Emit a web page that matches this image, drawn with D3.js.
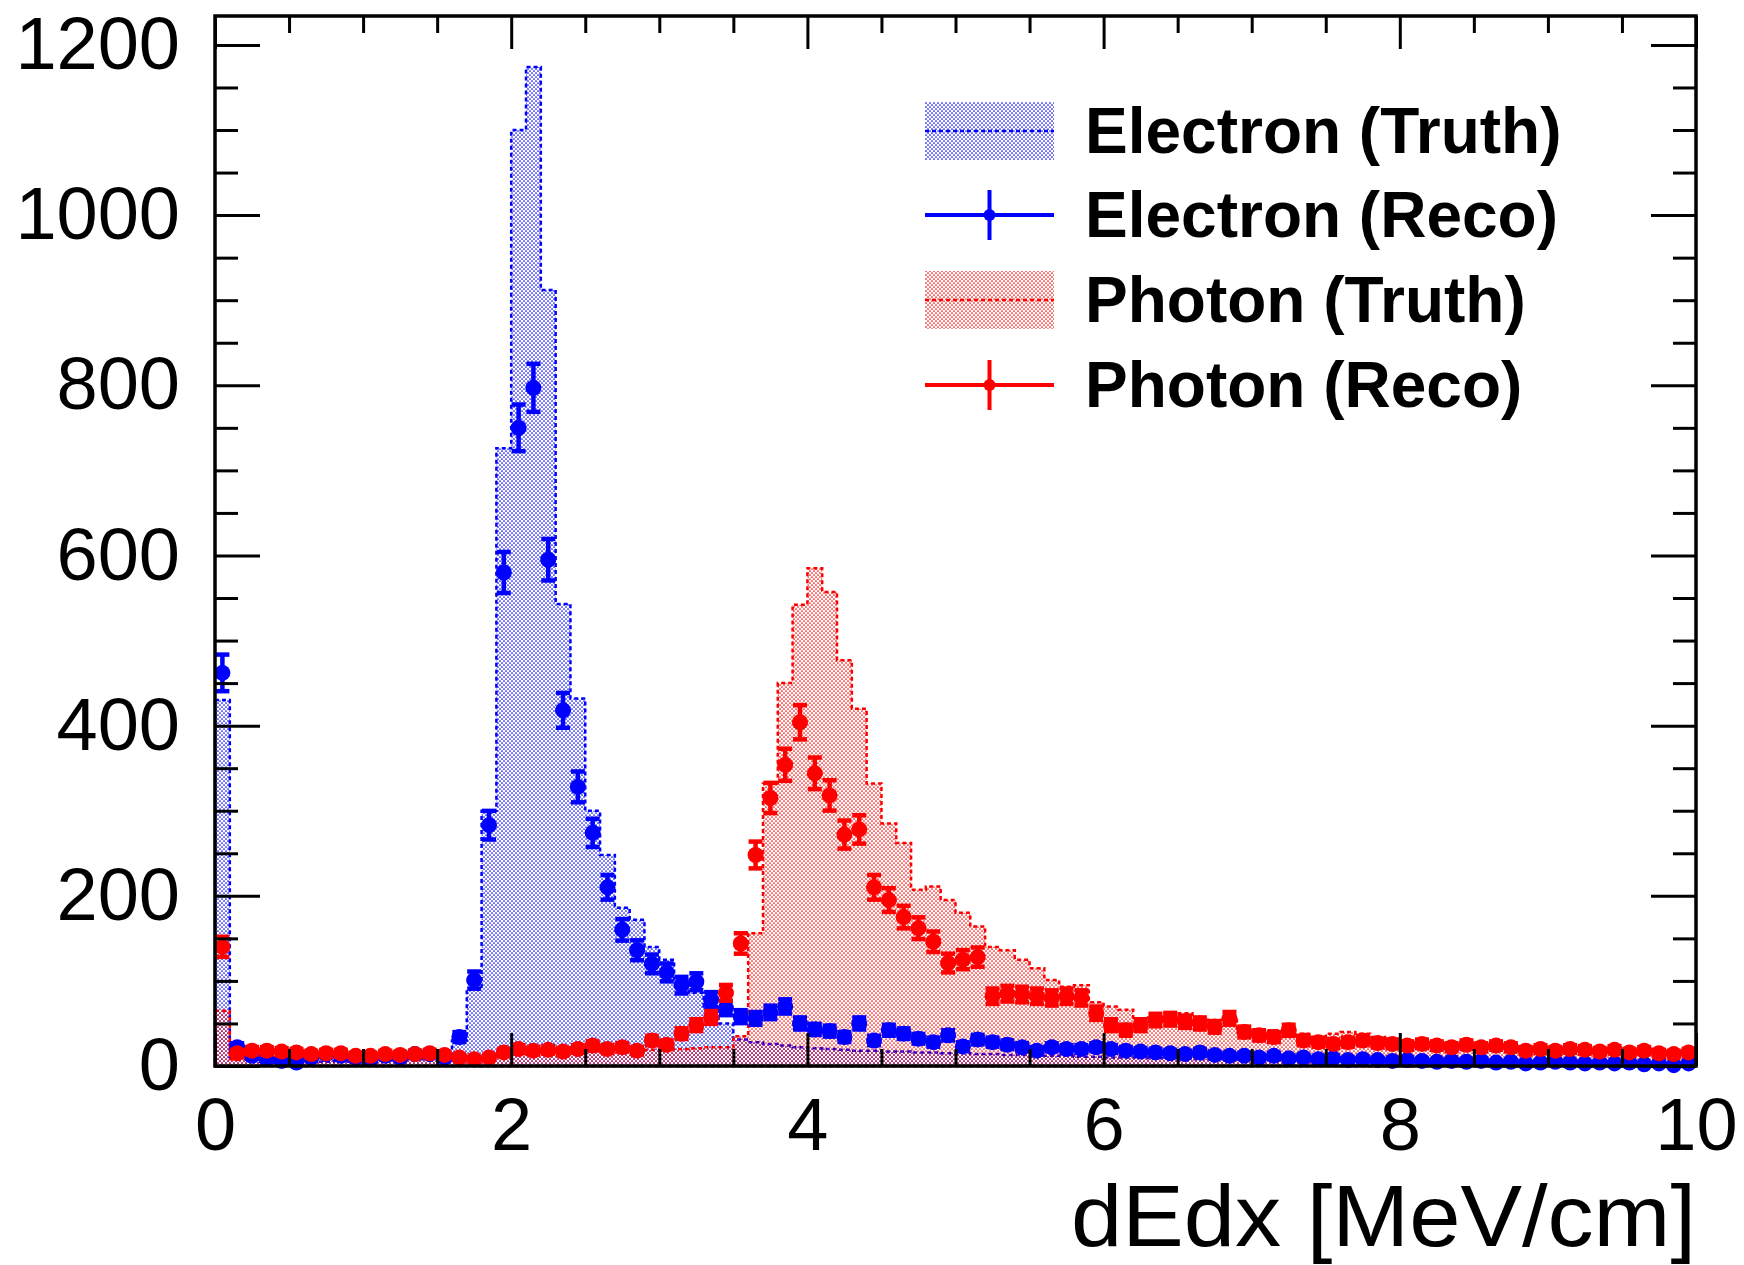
<!DOCTYPE html>
<html>
<head>
<meta charset="utf-8">
<script src="https://cdn.jsdelivr.net/npm/d3@7"></script>
<style>
    body { margin: 0; background: #fff; }
    svg { display: block; font-family: "Liberation Sans", Arial, Helvetica, sans-serif; }
</style>
</head>
<body>
<div id="chart"></div>
<script>
    // histogram binning (100 bins from 0 to 10)
    var xMin = 0, xMax = 10, binWidth = 0.1;
    var yMax = 1234;

    var xTicks = [0, 2, 4, 6, 8, 10];
    var yTicks = [0, 200, 400, 600, 800, 1000, 1200];

    // bin contents, one value per bin
    var electronTruth = [
        430, 10, 6, 5, 4, 5, 6, 5, 6, 5,
        6, 7, 8, 8, 10, 14, 30, 90, 300, 726,
        1100, 1174, 912, 543, 432, 300, 248, 186, 172, 140,
        125, 101, 86, 70, 50, 31, 28, 26, 24, 22,
        21, 20, 19, 18, 18, 17, 17, 16, 16, 15,
        15, 14, 14, 13, 13, 12, 12, 12, 11, 11,
        10, 10, 10, 9, 9, 9, 8, 8, 8, 8,
        7, 7, 7, 7, 6, 6, 6, 6, 6, 5,
        5, 5, 5, 5, 5, 4, 4, 4, 4, 4,
        4, 4, 3, 3, 3, 3, 3, 3, 3, 3
    ];
    var electronReco = [
        462, 22, 12, 8, 6, 4, 10, 14, 12, 10,
        8, 12, 10, 14, 14, 10, 34, 101, 283, 580,
        750, 797, 595, 418, 328, 274, 210, 160, 136, 120,
        110, 95, 99, 78, 68, 58, 56, 63, 70, 50,
        43, 41, 34, 50, 30, 42, 38, 32, 28, 36,
        23, 31, 28, 25, 22, 18, 22, 20, 20, 22,
        20, 18, 17, 16, 15, 14, 16, 13, 12, 12,
        10, 12, 9, 10, 8, 9, 7, 8, 7, 6,
        7, 6, 5, 6, 5, 6, 4, 5, 3, 4,
        5, 4, 3, 4, 3, 4, 2, 3, 1, 3
    ];
    var photonTruth = [
        65, 8, 12, 12, 10, 10, 9, 10, 10, 9,
        9, 10, 11, 10, 10, 10, 9, 9, 10, 12,
        14, 15, 15, 16, 16, 17, 17, 18, 18, 19,
        20, 20, 21, 22, 22, 35, 156, 332, 450, 542,
        585, 557, 477, 420, 332, 285, 262, 207, 211, 195,
        180, 164, 140, 136, 125, 115, 101, 93, 95, 75,
        70, 66, 54, 57, 62, 62, 57, 54, 57, 42,
        38, 42, 34, 38, 30, 38, 40, 38, 34, 30,
        30, 28, 27, 26, 26, 25, 24, 23, 23, 22,
        22, 21, 20, 20, 19, 19, 18, 18, 17, 17
    ];
    var photonReco = [
        140, 15, 18, 18, 17, 16, 14, 15, 15, 12,
        12, 14, 13, 14, 15, 13, 10, 8, 10, 16,
        20, 18, 19, 17, 20, 24, 20, 22, 18, 30,
        25, 38, 48, 57, 86, 144, 248, 315, 354, 404,
        344, 318, 272, 278, 210, 195, 175, 162, 146, 121,
        125, 128, 82, 85, 84, 82, 80, 82, 80, 62,
        48, 42, 48, 54, 55, 52, 50, 46, 56, 40,
        36, 34, 42, 30, 28, 26, 28, 30, 27, 26,
        24, 26, 24, 22, 25, 22, 24, 22, 18, 20,
        18, 20, 19, 17, 19, 16, 18, 15, 14, 16
    ];

    var legendLabels = ["Electron (Truth)", "Electron (Reco)", "Photon (Truth)", "Photon (Reco)"];

    var blue = "#0000ff", red = "#ff0000";

    // chart size and margin settings
    var totalWidth = 1744, totalHeight = 1265;
    var margin = { top: 16, right: 48, bottom: 199, left: 215 };
    var width = totalWidth - margin.left - margin.right;
    var height = totalHeight - margin.top - margin.bottom;

    var xScale = d3.scaleLinear().domain([xMin, xMax]).range([0, width]);
    var yScale = d3.scaleLinear().domain([0, yMax]).range([height, 0]);

    var root = d3.select("#chart").append("svg")
        .attr("width", totalWidth)
        .attr("height", totalHeight);

    // dotted fill patterns (ROOT style 3001 like)
    var defs = root.append("defs");
    function addPattern(id, color) {
        var p = defs.append("pattern")
            .attr("id", id)
            .attr("patternUnits", "userSpaceOnUse")
            .attr("width", 4)
            .attr("height", 4);
        p.append("circle").attr("cx", 1).attr("cy", 1).attr("r", 0.85).attr("fill", color);
        p.append("circle").attr("cx", 3).attr("cy", 3).attr("r", 0.85).attr("fill", color);
    }
    addPattern("dotsBlue", blue);
    addPattern("dotsRed", red);

    var svg = root.append("g")
        .attr("transform", "translate(" + margin.left + "," + margin.top + ")");

    // turns bin contents into step points
    function toSteps(values) {
        var pts = values.map(function (v, i) { return { x: xMin + i * binWidth, v: v }; });
        pts.push({ x: xMax, v: values[values.length - 1] });
        return pts;
    }

    var area = d3.area()
        .curve(d3.curveStepAfter)
        .x(function (d) { return xScale(d.x); })
        .y0(yScale(0))
        .y1(function (d) { return yScale(d.v); });

    function drawTruth(values, patternId, color) {
        svg.append("path")
            .datum(toSteps(values))
            .attr("d", area)
            .attr("fill", "url(#" + patternId + ")")
            .attr("stroke", color)
            .attr("stroke-width", 2.5)
            .attr("stroke-dasharray", "4,3");
    }

    var markerRadius = 8;
    var capHalf = 7;

    function drawReco(values, color) {
        var pts = values.map(function (v, i) {
            return { x: xMin + (i + 0.5) * binWidth, v: v, e: Math.sqrt(v) };
        });
        var g = svg.append("g")
            .attr("stroke", color)
            .attr("fill", color)
            .attr("stroke-width", 4.5);

        var pt = g.selectAll(".pt")
            .data(pts)
            .enter()
            .append("g")
            .attr("class", "pt");

        // horizontal bar (bin width)
        pt.append("line")
            .attr("x1", function (d) { return xScale(d.x - binWidth / 2); })
            .attr("x2", function (d) { return xScale(d.x + binWidth / 2); })
            .attr("y1", function (d) { return yScale(d.v); })
            .attr("y2", function (d) { return yScale(d.v); });

        // vertical error bar
        pt.append("line")
            .attr("x1", function (d) { return xScale(d.x); })
            .attr("x2", function (d) { return xScale(d.x); })
            .attr("y1", function (d) { return yScale(d.v - d.e); })
            .attr("y2", function (d) { return yScale(d.v + d.e); });

        // caps
        [-1, 1].forEach(function (s) {
            pt.append("line")
                .attr("x1", function (d) { return xScale(d.x) - capHalf; })
                .attr("x2", function (d) { return xScale(d.x) + capHalf; })
                .attr("y1", function (d) { return yScale(d.v + s * d.e); })
                .attr("y2", function (d) { return yScale(d.v + s * d.e); });
        });

        pt.append("circle")
            .attr("cx", function (d) { return xScale(d.x); })
            .attr("cy", function (d) { return yScale(d.v); })
            .attr("r", markerRadius)
            .attr("stroke", "none");
    }

    drawTruth(electronTruth, "dotsBlue", blue);
    drawTruth(photonTruth, "dotsRed", red);
    drawReco(electronReco, blue);
    drawReco(photonReco, red);

    // axes: ticks point inwards on all four sides
    var xMinor = d3.range(0, 10.01, 0.5).filter(function (t) { return xTicks.indexOf(t) < 0; });
    var yMinor = d3.range(0, yMax, 50).filter(function (t) { return yTicks.indexOf(t) < 0; });

    function styleAxis(sel) {
        sel.select(".domain").remove();
        sel.selectAll("line").attr("stroke", "#000").attr("stroke-width", 3);
        sel.selectAll("text")
            .attr("fill", "#000")
            .style("font-size", "74px");
    }

    svg.append("g")
        .attr("transform", "translate(0," + height + ")")
        .call(d3.axisBottom(xScale).tickValues(xTicks).tickSize(-33).tickPadding(31).tickFormat(d3.format("d")))
        .call(styleAxis);
    svg.append("g")
        .attr("transform", "translate(0," + height + ")")
        .call(d3.axisBottom(xScale).tickValues(xMinor).tickSize(-17).tickFormat(""))
        .call(styleAxis);
    svg.append("g")
        .call(d3.axisTop(xScale).tickValues(xTicks).tickSize(-33).tickFormat(""))
        .call(styleAxis);
    svg.append("g")
        .call(d3.axisTop(xScale).tickValues(xMinor).tickSize(-17).tickFormat(""))
        .call(styleAxis);

    svg.append("g")
        .call(d3.axisLeft(yScale).tickValues(yTicks).tickSize(-45).tickPadding(35).tickFormat(d3.format("d")))
        .call(styleAxis);
    svg.append("g")
        .call(d3.axisLeft(yScale).tickValues(yMinor).tickSize(-23).tickFormat(""))
        .call(styleAxis);
    svg.append("g")
        .attr("transform", "translate(" + width + ",0)")
        .call(d3.axisRight(yScale).tickValues(yTicks).tickSize(-45).tickFormat(""))
        .call(styleAxis);
    svg.append("g")
        .attr("transform", "translate(" + width + ",0)")
        .call(d3.axisRight(yScale).tickValues(yMinor).tickSize(-23).tickFormat(""))
        .call(styleAxis);

    // frame
    svg.append("rect")
        .attr("width", width)
        .attr("height", height)
        .attr("fill", "none")
        .attr("stroke", "#000")
        .attr("stroke-width", 3.5);

    // x-axis title (slightly stretched like the original rendering)
    svg.append("text")
        .attr("x", width)
        .attr("y", height + 180)
        .attr("text-anchor", "end")
        .attr("textLength", 625)
        .attr("lengthAdjust", "spacingAndGlyphs")
        .style("font-size", "88px")
        .text("dEdx [MeV/cm]");

    // legend
    var legendRows = [115, 199, 284, 369];
    var symX0 = 925 - margin.left, symX1 = 1054 - margin.left;
    var textX = 1085 - margin.left;
    var legend = svg.append("g");

    legendLabels.forEach(function (label, i) {
        var cy = legendRows[i];
        var color = i < 2 ? blue : red;
        if (i % 2 === 0) {
            legend.append("rect")
                .attr("x", symX0)
                .attr("y", cy - 29)
                .attr("width", symX1 - symX0)
                .attr("height", 58)
                .attr("fill", "url(#" + (i < 2 ? "dotsBlue" : "dotsRed") + ")");
            legend.append("line")
                .attr("x1", symX0).attr("x2", symX1)
                .attr("y1", cy).attr("y2", cy)
                .attr("stroke", color)
                .attr("stroke-width", 2.5)
                .attr("stroke-dasharray", "4,3");
        } else {
            var mid = (symX0 + symX1) / 2;
            legend.append("line")
                .attr("x1", symX0).attr("x2", symX1)
                .attr("y1", cy).attr("y2", cy)
                .attr("stroke", color).attr("stroke-width", 4);
            legend.append("line")
                .attr("x1", mid).attr("x2", mid)
                .attr("y1", cy - 25).attr("y2", cy + 25)
                .attr("stroke", color).attr("stroke-width", 4);
            legend.append("circle")
                .attr("cx", mid).attr("cy", cy)
                .attr("r", 6)
                .attr("fill", color);
        }
        legend.append("text")
            .attr("x", textX)
            .attr("y", cy + 22)
            .style("font-size", "64px")
            .style("font-weight", "bold")
            .text(label);
    });
</script>
</body>
</html>
